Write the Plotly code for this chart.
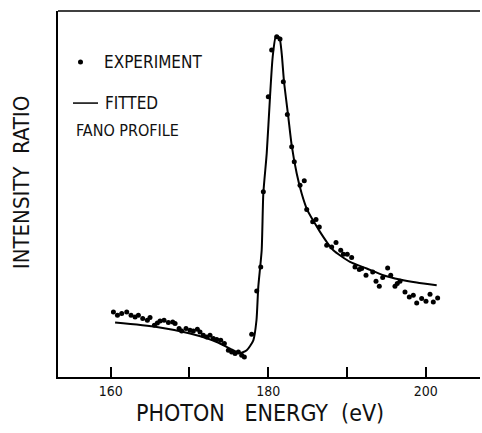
import plotly.graph_objects as go

# Experimental points: photon energy (eV) and intensity ratio (arb. units)
exp_energy = [160.34, 160.85, 161.39, 162.03, 162.58, 163.09, 163.51, 164.06, 164.65, 164.99,
              165.54, 165.92, 166.26, 166.77, 167.32, 167.87, 168.17, 168.68, 169.01, 169.56,
              170.07, 170.49, 171.00, 171.34, 171.76, 172.19, 172.61, 173.03, 173.46, 173.97,
              174.43, 174.94, 175.36, 175.79, 176.21, 176.63, 176.97, 177.90, 178.54, 179.05,
              179.38, 180.01, 180.44, 181.08, 181.50, 181.92, 182.43, 182.98, 183.31, 184.04,
              184.58, 184.89, 185.65, 186.07, 186.49, 187.43, 188.06, 188.61, 189.21, 189.54,
              190.04, 190.60, 191.02, 191.57, 191.87, 192.42, 193.27, 193.69, 194.11, 194.54,
              195.17, 195.56, 196.10, 196.39, 196.74, 197.37, 197.92, 198.43, 198.86, 199.49,
              200.04, 200.55, 200.97, 201.52]
exp_ratio = [0.65, 0.617, 0.634, 0.65, 0.617, 0.60, 0.617, 0.584, 0.567, 0.594,
             0.517, 0.54, 0.56, 0.567, 0.544, 0.55, 0.534, 0.484, 0.46, 0.484,
             0.467, 0.46, 0.477, 0.45, 0.417, 0.40, 0.417, 0.384, 0.374, 0.367,
             0.334, 0.267, 0.25, 0.234, 0.25, 0.217, 0.20, 0.427, 0.86, 1.10,
             1.85, 2.80, 3.267, 3.40, 3.377, 2.95, 2.624, 2.30, 2.15, 1.917,
             1.96, 1.674, 1.55, 1.574, 1.50, 1.317, 1.30, 1.344, 1.267, 1.227,
             1.227, 1.194, 1.10, 1.074, 1.084, 1.017, 1.05, 0.957, 0.907, 0.994,
             1.09, 1.017, 0.907, 0.934, 0.957, 0.85, 0.80, 0.817, 0.74, 0.784,
             0.757, 0.827, 0.75, 0.79]

# Fitted Fano profile
fit_energy = [160.55, 165.84, 170.07, 173.46, 175.15, 176.42, 177.27, 178.11, 178.51, 178.74,
              179.17, 179.38, 179.81, 180.23, 180.57, 180.99, 181.41, 181.71, 182.01, 182.55,
              182.98, 183.62, 184.25, 184.97, 185.73, 186.58, 187.43, 188.27, 190.39, 192.51,
              194.62, 196.74, 198.86, 201.40]
fit_ratio = [0.544, 0.50, 0.434, 0.35, 0.284, 0.24, 0.267, 0.367, 0.567, 0.90,
             1.267, 1.834, 2.234, 2.80, 3.20, 3.407, 3.394, 3.234, 2.95, 2.60,
             2.317, 2.034, 1.834, 1.667, 1.56, 1.45, 1.35, 1.267, 1.15, 1.084,
             1.017, 0.974, 0.944, 0.917]

tick_vals = [160, 170, 180, 190, 200]
tick_text = ["160", "", "180", "", "200"]

FONT = "Liberation Sans Narrow, DejaVu Sans Condensed, Roboto, sans-serif"

fig = go.Figure()
fig.add_trace(go.Scatter(x=fit_energy, y=fit_ratio, mode="lines",
                         line=dict(color="black", width=2, shape="spline", smoothing=0.6),
                         showlegend=False, hoverinfo="skip"))
fig.add_trace(go.Scatter(x=exp_energy, y=exp_ratio, mode="markers",
                         marker=dict(color="black", size=5),
                         showlegend=False))

fig.update_layout(
    width=482, height=433,
    margin=dict(l=58, r=2, t=11, b=56),
    paper_bgcolor="white", plot_bgcolor="white",
    font=dict(family=FONT, color="#111"),
    xaxis=dict(range=[153.3, 206.9], showgrid=False, zeroline=False,
               tickmode="array", tickvals=tick_vals, ticktext=tick_text,
               ticks="inside", ticklen=10, tickwidth=2, tickcolor="black",
               tickfont=dict(size=14, family=FONT),
               showline=True, linecolor="black", linewidth=1.5,
               mirror=False, fixedrange=True),
    yaxis=dict(range=[0, 3.657], showgrid=False, zeroline=False,
               showticklabels=False, ticks="",
               showline=True, linecolor="black", linewidth=1.5, fixedrange=True),
    showlegend=False,
)

# top frame line
fig.add_shape(type="line", xref="paper", yref="paper", x0=0, x1=1, y0=1, y1=1,
              line=dict(color="black", width=1.5))

# axis titles
fig.add_annotation(text="PHOTON&nbsp;&nbsp;&nbsp;ENERGY&nbsp;&nbsp;(eV)", xref="paper", yref="paper",
                   x=(260 - 58) / 422, y=-(413 - 376.7) / 365.7, xanchor="center", yanchor="middle",
                   showarrow=False, font=dict(size=23, family=FONT, color="#111"))
fig.add_annotation(text="INTENSITY&nbsp;&nbsp;RATIO", xref="paper", yref="paper",
                   x=-(58 - 21) / 422, y=(376.7 - 183) / 365.7, xanchor="center", yanchor="middle",
                   textangle=-90, showarrow=False,
                   font=dict(size=22, family=FONT, color="#111"))

# legend
fig.add_annotation(text="EXPERIMENT", xref="paper", yref="paper",
                   x=(102 - 58) / 422, y=(376.7 - 62) / 365.7, xanchor="left", yanchor="middle",
                   showarrow=False, font=dict(size=17, family=FONT, color="#111"))
fig.add_annotation(text="FITTED", xref="paper", yref="paper",
                   x=(103 - 58) / 422, y=(376.7 - 103) / 365.7, xanchor="left", yanchor="middle",
                   showarrow=False, font=dict(size=17, family=FONT, color="#111"))
fig.add_annotation(text="FANO PROFILE", xref="paper", yref="paper",
                   x=(74 - 58) / 422, y=(376.7 - 130) / 365.7, xanchor="left", yanchor="middle",
                   showarrow=False, font=dict(size=16, family=FONT, color="#111"))
fig.add_shape(type="circle", xref="paper", yref="paper",
              x0=(78 - 58) / 422, x1=(83 - 58) / 422,
              y0=(376.7 - 64.5) / 365.7, y1=(376.7 - 59.5) / 365.7,
              fillcolor="black", line=dict(color="black", width=0))
fig.add_shape(type="line", xref="paper", yref="paper",
              x0=(73 - 58) / 422, x1=(98 - 58) / 422,
              y0=(376.7 - 103) / 365.7, y1=(376.7 - 103) / 365.7,
              line=dict(color="black", width=1.5))

fig.write_html("out.html")
